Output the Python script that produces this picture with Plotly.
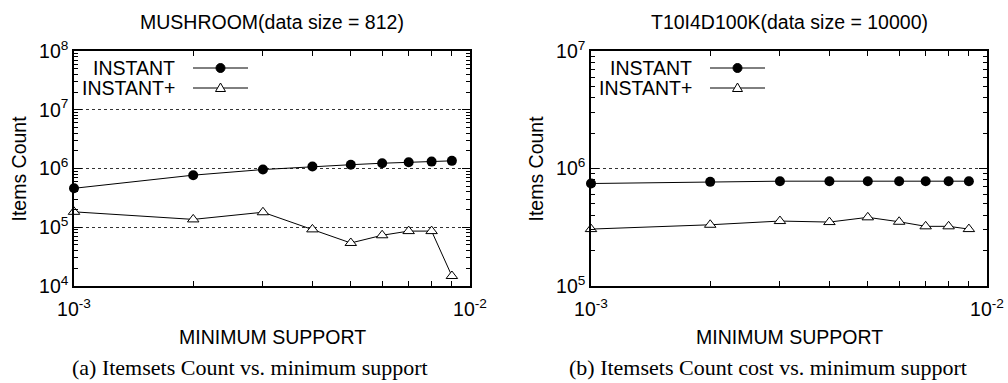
import plotly.graph_objects as go

# Minimum support thresholds (shared by both datasets)
min_support = [0.001, 0.002, 0.003, 0.004, 0.005, 0.006, 0.007, 0.008, 0.009]

# MUSHROOM (data size = 812)
mushroom_instant = [4.6e5, 7.7e5, 9.6e5, 1.08e6, 1.16e6, 1.23e6, 1.28e6, 1.31e6, 1.35e6]
mushroom_instant_plus = [1.83e5, 1.36e5, 1.80e5, 9.2e4, 5.4e4, 7.3e4, 8.6e4, 8.6e4, 1.48e4]

# T10I4D100K (data size = 10000)
t10_instant = [7.45e5, 7.7e5, 7.8e5, 7.8e5, 7.8e5, 7.8e5, 7.8e5, 7.8e5, 7.8e5]
t10_instant_plus = [3.05e5, 3.32e5, 3.57e5, 3.5e5, 3.84e5, 3.52e5, 3.22e5, 3.22e5, 3.05e5]

series_names = ["INSTANT", "INSTANT+"]
panel_titles = ["MUSHROOM(data size = 812)", "T10I4D100K(data size = 10000)"]
captions = ["(a) Itemsets Count vs. minimum support",
            "(b) Itemsets Count cost vs. minimum support"]
x_title = "MINIMUM SUPPORT"
y_title = "Items Count"

W, H = 1008, 383
SANS = "Liberation Sans, Arial, Helvetica, sans-serif"
SERIF = "Liberation Serif, Times New Roman, serif"
FS = 19.5


def px(x):
    return x / W


def py(y):
    return 1 - y / H


def major_ticks(lo_exp, hi_exp):
    vals = [10.0 ** k for k in range(lo_exp, hi_exp + 1)]
    text = [f"10<sup>{k}</sup>" for k in range(lo_exp, hi_exp + 1)]
    return vals, text


def minor_vals(lo_exp, hi_exp):
    # 2..9 x 10^k inside each decade of a log axis
    return [m * 10.0 ** k for k in range(lo_exp, hi_exp) for m in range(2, 10)]


# plot boxes in pixels: (left, right)
boxes = [(74, 470), (591, 987)]
top, bottom = 51, 286

fig = go.Figure()

panels = [
    (mushroom_instant, mushroom_instant_plus, "x", "y"),
    (t10_instant, t10_instant_plus, "x2", "y2"),
]
for inst, inst_plus, xa, ya in panels:
    fig.add_trace(go.Scatter(
        x=min_support, y=inst, xaxis=xa, yaxis=ya, mode="lines+markers",
        name=series_names[0], showlegend=False, cliponaxis=False,
        line=dict(color="black", width=1),
        marker=dict(symbol="circle", size=10, color="black"),
    ))
    fig.add_trace(go.Scatter(
        x=min_support, y=inst_plus, xaxis=xa, yaxis=ya, mode="lines+markers",
        name=series_names[1], showlegend=False, cliponaxis=False,
        line=dict(color="black", width=1),
        marker=dict(symbol="triangle-up", size=10, color="white",
                    line=dict(color="black", width=1)),
    ))

common_axis = dict(
    type="log", showline=True, linecolor="black", linewidth=1.5,
    mirror="ticks", ticks="inside", ticklen=8, tickwidth=1, tickcolor="black",
    tickfont=dict(family=SANS, size=FS, color="black"),
    zeroline=False, automargin=False, ticklabeloverflow="allow",
)


def x_axis(domain, anchor):
    tv, tt = major_ticks(-3, -2)
    return dict(common_axis, range=[-3, -2], showgrid=False, domain=domain, anchor=anchor,
                tickmode="array", tickvals=tv, ticktext=tt, ticklabelstandoff=5,
                minor=dict(tickmode="array", tickvals=minor_vals(-3, -2), ticks="inside",
                           ticklen=5, tickwidth=1, tickcolor="black", showgrid=False))


def y_axis(domain, anchor, lo, hi):
    tv, tt = major_ticks(lo, hi)
    return dict(common_axis, range=[lo, hi], domain=domain, anchor=anchor,
                tickmode="array", tickvals=tv, ticktext=tt,
                showgrid=True, gridcolor="#333", griddash="dot", gridwidth=1,
                minor=dict(tickmode="array", tickvals=minor_vals(lo, hi), ticks="inside",
                           ticklen=4, tickwidth=1, tickcolor="black", showgrid=False))


ydom = [py(bottom), py(top)]
fig.update_layout(
    width=W, height=H,
    margin=dict(l=0, r=0, t=0, b=0, autoexpand=False),
    paper_bgcolor="white", plot_bgcolor="white",
    showlegend=False,
    xaxis=x_axis([px(boxes[0][0]), px(boxes[0][1])], "y"),
    yaxis=y_axis(ydom, "x", 4, 8),
    xaxis2=x_axis([px(boxes[1][0]), px(boxes[1][1])], "y2"),
    yaxis2=y_axis(ydom, "x2", 5, 7),
)

annotations = []
shapes = []
for i, (l, r) in enumerate(boxes):
    cx = (l + r) / 2
    # panel title
    annotations.append(dict(text=panel_titles[i], x=px(cx), y=py(22), xref="paper", yref="paper",
                            showarrow=False, xanchor="center", yanchor="middle",
                            font=dict(family=SANS, size=FS, color="black")))
    # x-axis title
    annotations.append(dict(text=x_title, x=px(cx), y=py(337), xref="paper", yref="paper",
                            showarrow=False, xanchor="center", yanchor="middle",
                            font=dict(family=SANS, size=FS, color="black")))
    # y-axis title
    annotations.append(dict(text=y_title, x=px(l - 56), y=py((top + bottom) / 2),
                            xref="paper", yref="paper", textangle=-90,
                            showarrow=False, xanchor="center", yanchor="middle",
                            font=dict(family=SANS, size=FS, color="black")))
    # caption
    cap_x = [250, 768][i]
    annotations.append(dict(text=captions[i], x=px(cap_x), y=py(367), xref="paper", yref="paper",
                            showarrow=False, xanchor="center", yanchor="middle",
                            font=dict(family=SERIF, size=22, color="black")))

    # key: label on the left, line sample with marker on the right
    text_right = l + 103
    line_x0, line_x1 = l + 119, l + 174
    mark_x = (line_x0 + line_x1) / 2
    for j, ky in enumerate([68, 88]):
        annotations.append(dict(text=series_names[j], x=px(text_right), y=py(ky),
                                xref="paper", yref="paper", showarrow=False,
                                xanchor="right", yanchor="middle",
                                font=dict(family=SANS, size=FS, color="black")))
        shapes.append(dict(type="line", xref="paper", yref="paper",
                           x0=px(line_x0), x1=px(line_x1), y0=py(ky), y1=py(ky),
                           line=dict(color="black", width=1)))
        if j == 0:
            shapes.append(dict(type="circle", xref="paper", yref="paper",
                               xsizemode="pixel", ysizemode="pixel",
                               xanchor=px(mark_x), yanchor=py(ky),
                               x0=-4.5, x1=4.5, y0=-4.5, y1=4.5,
                               fillcolor="black", line=dict(color="black", width=1)))
        else:
            shapes.append(dict(type="path", xref="paper", yref="paper",
                               xsizemode="pixel", ysizemode="pixel",
                               xanchor=px(mark_x), yanchor=py(ky),
                               path="M -5,-3.5 L 5,-3.5 L 0,5 Z",
                               fillcolor="white", line=dict(color="black", width=1)))

fig.update_layout(annotations=annotations, shapes=shapes)

fig.write_html("out.html")
